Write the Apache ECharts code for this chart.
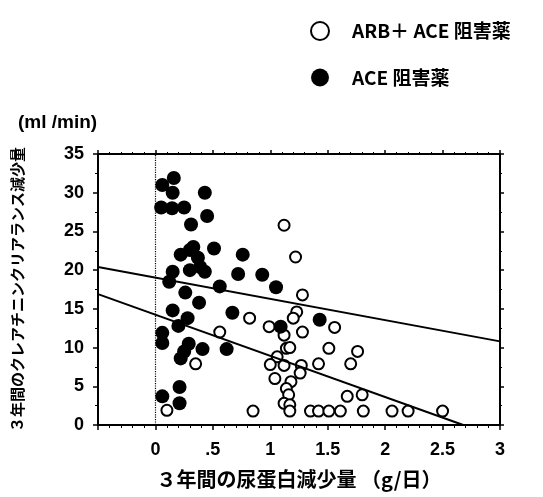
<!DOCTYPE html>
<html>
<head>
<meta charset="utf-8">
<script src="https://cdn.jsdelivr.net/npm/echarts@6/dist/echarts.min.js"></script>
<style>
  html, body { margin: 0; padding: 0; background: #fff; }
  #container { width: 543px; height: 497px; }
</style>
</head>
<body>
<div id="container"></div>
<script>
var dom = document.getElementById('container');
var myChart = echarts.init(dom, null, { renderer: 'canvas' });

// ARB + ACE 阻害薬 (白丸)
var arbAce = [
  [1.12, 25.8], [1.22, 21.7], [1.28, 16.8], [1.23, 14.6], [1.20, 13.8], [0.82, 13.8],
  [0.99, 12.7], [1.12, 11.6], [1.28, 12.0], [1.56, 12.6], [1.51, 9.9], [1.76, 9.5],
  [1.14, 9.9], [1.17, 10.0], [1.06, 8.8], [1.00, 7.8], [1.12, 7.7], [1.27, 7.7],
  [1.42, 7.9], [1.70, 7.9], [1.04, 6.0], [1.26, 6.7], [1.18, 5.6], [1.14, 4.7],
  [1.16, 3.9], [1.12, 2.8], [1.17, 2.6], [1.67, 3.7], [1.80, 3.9], [0.56, 12.0],
  [0.35, 7.9], [0.10, 1.9], [0.85, 1.8], [1.17, 1.8], [1.35, 1.8], [1.42, 1.8],
  [1.51, 1.8], [1.61, 1.8], [1.81, 1.8], [2.06, 1.8], [2.20, 1.8], [2.50, 1.8]
];

// ACE 阻害薬 (黒丸)
var aceOnly = [
  [0.16, 31.9], [0.06, 31.0], [0.15, 30.0], [0.43, 30.0], [0.05, 28.1], [0.145, 28.0],
  [0.25, 28.1], [0.45, 27.0], [0.31, 25.9], [0.33, 23.0], [0.51, 22.8], [0.22, 22.0],
  [0.30, 22.6], [0.37, 21.6], [0.30, 20.0], [0.39, 20.4], [0.43, 19.8], [0.76, 22.0],
  [0.72, 19.5], [0.93, 19.4], [0.15, 19.8], [0.12, 18.5], [0.56, 17.9], [0.26, 17.1],
  [0.38, 15.8], [0.15, 14.8], [0.67, 14.5], [0.28, 13.8], [0.20, 12.8], [0.06, 11.9],
  [0.06, 10.6], [0.29, 10.5], [0.41, 9.8], [0.25, 9.5], [0.22, 8.6], [0.62, 9.8],
  [0.21, 4.9], [0.06, 3.7], [0.21, 2.8], [1.05, 17.8], [1.43, 13.6], [1.09, 12.7]
];

// 回帰直線
var upperLine = [[-0.5, 20.4], [3, 10.8]];
var lowerLine = [[-0.5, 16.9], [2.68, 0]];

var xLabels = { '0': '0', '0.5': '.5', '1': '1', '1.5': '1.5', '2': '2', '2.5': '2.5', '3': '3' };

var numFont = "'Liberation Sans Narrow', 'Liberation Sans', Arial, sans-serif";
var jpFont = "'Noto Sans CJK JP', sans-serif";

var option = {
  animation: false,
  backgroundColor: '#fff',
  grid: { left: 98, right: 43, top: 154, bottom: 72 },
  legend: {
    orient: 'vertical',
    left: 305,
    top: 16,
    itemWidth: 18,
    itemHeight: 18,
    itemGap: 27,
    textStyle: { fontFamily: jpFont, fontWeight: 'bold', fontSize: 19, color: '#000', padding: [0, 0, 0, 18] },
    data: [
      { name: 'ARB＋ ACE 阻害薬', icon: 'circle' },
      { name: 'ACE 阻害薬', icon: 'circle' }
    ]
  },
  graphic: [{
    type: 'text', left: 18, top: 113,
    style: { text: '(ml /min)', font: "bold 19px " + numFont, fill: '#000' }
  }],
  xAxis: [{
    type: 'value', min: -0.5, max: 3, interval: 0.5,
    name: '３年間の尿蛋白減少量 （g/日）',
    nameLocation: 'middle', nameGap: 44,
    nameTextStyle: { fontFamily: jpFont, fontWeight: 'bold', fontSize: 20, color: '#000' },
    axisLine: { onZero: false, lineStyle: { color: '#000', width: 2 } },
    axisTick: { length: 5, lineStyle: { color: '#000', width: 1.5 } },
    minorTick: { show: true, splitNumber: 5, length: 3, lineStyle: { color: '#000' } },
    splitLine: { show: false },
    axisLabel: {
      margin: 16, fontFamily: numFont, fontWeight: 'bold', fontSize: 18, color: '#000',
      formatter: function (v) { return xLabels[String(v)] || ''; }
    }
  }, {
    type: 'value', min: -0.5, max: 3, interval: 0.5, position: 'top',
    axisLine: { onZero: false, lineStyle: { color: '#000', width: 2 } },
    axisTick: { length: 4, lineStyle: { color: '#000', width: 1.5 } },
    minorTick: { show: true, splitNumber: 5, length: 2, lineStyle: { color: '#000' } },
    splitLine: { show: false },
    axisLabel: { show: false }
  }],
  yAxis: [{
    type: 'value', min: 0, max: 35, interval: 5,
    name: '３年間のクレアチニンクリアランス減少量',
    nameLocation: 'middle', nameRotate: 90, nameGap: 73,
    nameTextStyle: { fontFamily: jpFont, fontWeight: 'bold', fontSize: 15, color: '#000' },
    axisLine: { onZero: false, lineStyle: { color: '#000', width: 2 } },
    axisTick: { length: 5, lineStyle: { color: '#000', width: 1.5 } },
    minorTick: { show: true, splitNumber: 2, length: 3, lineStyle: { color: '#000' } },
    splitLine: { show: false },
    axisLabel: { margin: 14, fontFamily: numFont, fontWeight: 'bold', fontSize: 18, color: '#000' }
  }, {
    type: 'value', min: 0, max: 35, interval: 5, position: 'right',
    axisLine: { onZero: false, lineStyle: { color: '#000', width: 2 } },
    axisTick: { length: 4, lineStyle: { color: '#000', width: 1.5 } },
    minorTick: { show: true, splitNumber: 2, length: 2, lineStyle: { color: '#000' } },
    splitLine: { show: false },
    axisLabel: { show: false }
  }],
  series: [
    {
      name: '基準線', type: 'line', data: [], silent: true,
      markLine: {
        symbol: 'none', silent: true, label: { show: false },
        lineStyle: { color: '#000', type: 'dotted', width: 1.2 },
        data: [{ xAxis: 0 }]
      }
    },
    {
      name: 'ARB＋ ACE 阻害薬', type: 'scatter', data: arbAce, symbol: 'circle', symbolSize: 11,
      itemStyle: { color: '#fff', borderColor: '#000', borderWidth: 2, opacity: 1 }, z: 3
    },
    {
      name: 'ACE 阻害薬', type: 'scatter', data: aceOnly, symbol: 'circle', symbolSize: 14,
      itemStyle: { color: '#000', opacity: 1 }, z: 4
    },
    {
      name: 'upper', type: 'line', data: upperLine, symbol: 'none', silent: true,
      lineStyle: { color: '#000', width: 2 }, z: 5
    },
    {
      name: 'lower', type: 'line', data: lowerLine, symbol: 'none', silent: true,
      lineStyle: { color: '#000', width: 2 }, z: 5
    }
  ]
};

myChart.setOption(option);
window.addEventListener('resize', myChart.resize);
</script>
</body>
</html>
